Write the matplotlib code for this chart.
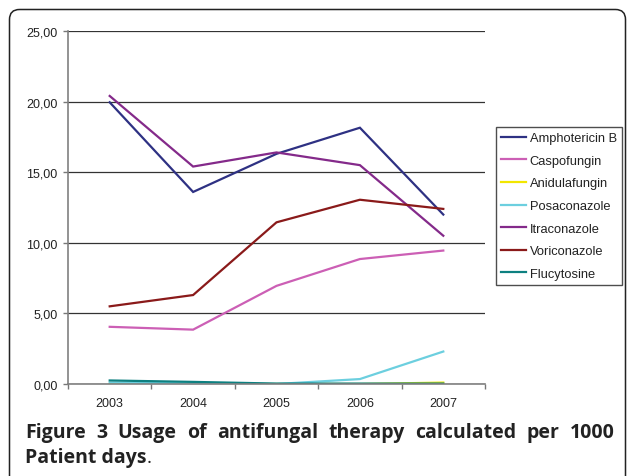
import numpy as np
import matplotlib
matplotlib.use("Agg")
import matplotlib.pyplot as plt
from matplotlib.patches import FancyBboxPatch

years = ["2003", "2004", "2005", "2006", "2007"]
amphotericin_b = [19.95, 13.6, 16.3, 18.15, 12.0]
caspofungin = [4.05, 3.85, 6.95, 8.85, 9.45]
anidulafungin = [0.0, 0.0, 0.0, 0.0, 0.1]
posaconazole = [0.1, 0.05, 0.0, 0.35, 2.3]
itraconazole = [20.4, 15.4, 16.4, 15.5, 10.5]
voriconazole = [5.5, 6.3, 11.45, 13.05, 12.4]
flucytosine = [0.25, 0.15, 0.03, 0.03, 0.03]

series = [
    ("Amphotericin B", amphotericin_b, "#2e3183"),
    ("Caspofungin", caspofungin, "#cc5fb5"),
    ("Anidulafungin", anidulafungin, "#f2e600"),
    ("Posaconazole", posaconazole, "#6ccfdf"),
    ("Itraconazole", itraconazole, "#842a8a"),
    ("Voriconazole", voriconazole, "#8a1a1a"),
    ("Flucytosine", flucytosine, "#0d8080"),
]

caption_bold = ["Figure", "3"]
caption_line1 = ["Usage", "of", "antifungal", "therapy", "calculated", "per", "1000"]
caption_line2 = "Patient days"

plt.rcParams['font.family'] = ['Liberation Sans', 'DejaVu Sans']

fig = plt.figure(figsize=(6.27, 4.77), dpi=100)

# outer frame of the figure panel (pixel coordinates)
bg = fig.add_axes([0, 0, 1, 1])
bg.set_xlim(0, 627)
bg.set_ylim(477, 0)
bg.axis("off")
bg.add_patch(FancyBboxPatch((9.5, 10.5), 616, 600, boxstyle="round,pad=0,rounding_size=10",
                            fill=False, ec="#222222", lw=1.1))

ax = fig.add_axes([68 / 627, 1 - 385 / 477, (485 - 68) / 627, (385 - 32) / 477])
x = np.arange(len(years))
for name, vals, col in series:
    ax.plot(x, vals, color=col, lw=1.6, label=name, solid_joinstyle="miter")

ax.set_xlim(-0.5, len(years) - 0.5)
ax.set_ylim(0, 25)
ax.set_yticks(np.arange(0, 26, 5))
ax.set_yticklabels([f"{v:.2f}".replace(".", ",") for v in np.arange(0, 26, 5)])
ax.yaxis.grid(True, color="#333333", lw=0.9)
ax.set_axisbelow(True)

ax.set_xticks(np.arange(-0.5, len(years), 1.0))
ax.set_xticklabels([])
ax.set_xticks(x, minor=True)
ax.set_xticklabels(years, minor=True)
ax.tick_params(axis="x", which="major", length=3.6, color="#777777", width=1)
ax.tick_params(axis="x", which="minor", length=0, pad=9.5, labelsize=9, labelcolor="#222222")
ax.tick_params(axis="y", length=3.6, color="#777777", width=1, labelsize=9, labelcolor="#222222", pad=4)

for s in ["top", "right"]:
    ax.spines[s].set_visible(False)
for s in ["left", "bottom"]:
    ax.spines[s].set_color("#808080")
    ax.spines[s].set_linewidth(1.2)

leg = ax.legend(loc="upper left", bbox_to_anchor=(496 / 627, 1 - 128 / 477),
                bbox_transform=fig.transFigure, fontsize=9.3, frameon=True,
                fancybox=False, edgecolor="#222222", handlelength=1.95,
                handletextpad=0.25, labelspacing=0.82, borderpad=0.4,
                borderaxespad=0)
leg.get_frame().set_linewidth(1.0)
for t in leg.get_texts():
    t.set_color("#222222")

# caption, justified word by word so the line fills the panel width
fig.canvas.draw()
renderer = fig.canvas.get_renderer()
cap_size = 14.0


def word(txt, xx, yy, w):
    return bg.text(xx, yy, txt, fontsize=cap_size, fontweight=w, family="Open Sans",
                   color="#222222", va="baseline", ha="left")


def width_px(t):
    return t.get_window_extent(renderer).width


x0, x1 = 25, 615
words = [(w, "bold") for w in caption_bold] + [(w, "bold") for w in caption_line1]
texts = [word(w, 0, 438, wt) for w, wt in words]
widths = [width_px(t) for t in texts]
gap = (x1 - x0 - sum(widths)) / (len(texts) - 1)
xx = x0
for t, wd in zip(texts, widths):
    t.set_x(xx)
    xx += wd + gap

t2 = word(caption_line2, x0, 463, "bold")
word(".", x0 + width_px(t2), 463, "normal")

fig.savefig("out.png", dpi=100)
